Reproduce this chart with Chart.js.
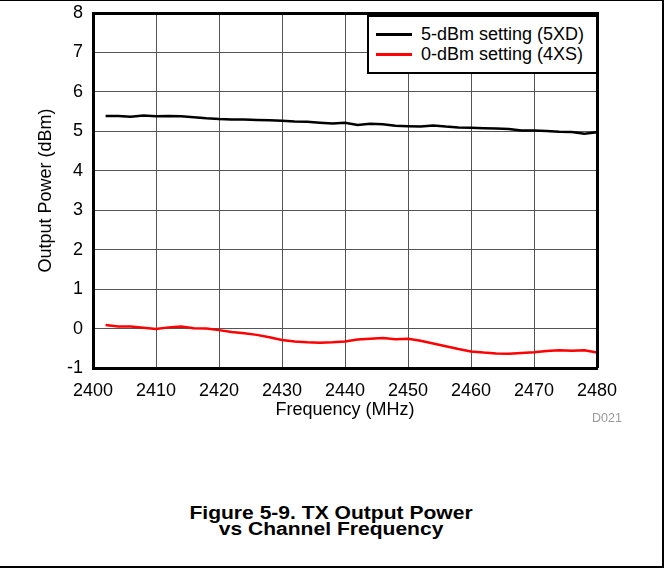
<!DOCTYPE html>
<html>
<head>
<meta charset="utf-8">
<script src="https://cdn.jsdelivr.net/npm/chart.js@4/dist/chart.umd.min.js"></script>
<style>
  html, body { margin: 0; padding: 0; background: #fff; }
  body { width: 669px; height: 571px; position: relative; overflow: hidden; font-family: "Liberation Sans", Arial, sans-serif; }
  #frame { position: absolute; left: 0; top: 0; width: 662px; height: 565px; border-top: 1px solid #000; border-right: 2px solid #000; border-bottom: 2px solid #000; }
  #wrap { position: absolute; left: 0; top: 0; width: 669px; height: 424px; }
  #legend { position: absolute; left: 367px; top: 15px; width: 227px; height: 55px; border: 2px solid #000; background: #fff; font-size: 18px; color: #000; }
  .row { position: absolute; left: 0; height: 20px; line-height: 20px; white-space: nowrap; }
  .sw { position: absolute; left: 7px; top: 9px; width: 36px; height: 3px; }
  .lt { position: absolute; left: 52px; top: 0; }
  #code { position: absolute; left: 592px; top: 411px; font-size: 12.5px; color: #9a9a9a; }
  #caption { position: absolute; left: 0; width: 663px; top: 505px; text-align: center; font-weight: bold; font-size: 18px; line-height: 16px; color: #000; }
  #caption span { display: inline-block; transform: scaleX(1.17); }
</style>
</head>
<body>
<div id="frame"></div>
<div id="wrap"><canvas id="c" width="669" height="424"></canvas></div>
<div id="legend">
  <div class="row" style="top:7px"><div class="sw" style="background:#000"></div><div class="lt">5-dBm setting (5XD)</div></div>
  <div class="row" style="top:27px"><div class="sw" style="background:#ff0000"></div><div class="lt">0-dBm setting (4XS)</div></div>
</div>
<div id="code">D021</div>
<div id="caption"><span>Figure 5-9. TX Output Power</span><br><span>vs Channel Frequency</span></div>
<script>
const frequencies = [2402,2404,2406,2408,2410,2412,2414,2416,2418,2420,2422,2424,2426,2428,2430,2432,2434,2436,2438,2440,2442,2444,2446,2448,2450,2452,2454,2456,2458,2460,2462,2464,2466,2468,2470,2472,2474,2476,2478,2480];
const power5dBm = [5.39,5.39,5.37,5.40,5.38,5.39,5.38,5.36,5.33,5.31,5.30,5.30,5.29,5.28,5.27,5.25,5.24,5.22,5.20,5.22,5.16,5.19,5.18,5.14,5.13,5.12,5.15,5.12,5.10,5.09,5.08,5.07,5.06,5.02,5.02,5.01,4.99,4.98,4.94,4.98];
const power0dBm = [0.09,0.05,0.05,0.02,-0.01,0.03,0.05,0.01,0.00,-0.04,-0.09,-0.12,-0.16,-0.22,-0.29,-0.33,-0.35,-0.36,-0.35,-0.33,-0.28,-0.26,-0.24,-0.27,-0.26,-0.31,-0.38,-0.45,-0.52,-0.58,-0.61,-0.63,-0.64,-0.62,-0.60,-0.57,-0.55,-0.56,-0.55,-0.61];
const seriesNames = ["5-dBm setting (5XD)", "0-dBm setting (4XS)"];
const xTitle = "Frequency (MHz)";
const yTitle = "Output Power (dBm)";

const FONT = "'Liberation Sans', Arial, sans-serif";

const frameTopRight = {
  id: 'frameTopRight',
  afterDatasetsDraw(chart) {
    const {ctx, chartArea: a} = chart;
    ctx.save();
    ctx.strokeStyle = '#000';
    ctx.lineWidth = 3;
    ctx.beginPath();
    ctx.moveTo(a.left, a.top + 0.5);
    ctx.lineTo(a.right + 0.5, a.top + 0.5);
    ctx.lineTo(a.right + 0.5, a.bottom);
    ctx.stroke();
    ctx.restore();
  }
};

new Chart(document.getElementById('c'), {
  type: 'line',
  data: {
    datasets: [
      { label: seriesNames[0], data: frequencies.map((f, i) => ({x: f, y: power5dBm[i]})), borderColor: '#000', borderWidth: 2.5, pointRadius: 0, tension: 0, fill: false },
      { label: seriesNames[1], data: frequencies.map((f, i) => ({x: f, y: power0dBm[i]})), borderColor: '#ff0000', borderWidth: 2.5, pointRadius: 0, tension: 0, fill: false }
    ]
  },
  options: {
    responsive: false,
    animation: false,
    events: [],
    layout: { padding: { left: 0, top: 13, right: 72, bottom: 0 } },
    plugins: { legend: { display: false }, tooltip: { enabled: false } },
    scales: {
      x: {
        type: 'linear', min: 2400, max: 2480,
        ticks: { stepSize: 10, padding: 12, color: '#000', font: { family: FONT, size: 18 }, maxRotation: 0, callback: v => String(v) },
        grid: { color: '#555', lineWidth: 1, drawTicks: false },
        border: { color: '#000', width: 3 },
        title: { display: true, text: xTitle, color: '#000', font: { family: FONT, size: 18 }, padding: { top: 0, bottom: 3 } },
        afterFit(s) { s.height = 56; s.paddingLeft = 0; s.paddingRight = 0; }
      },
      y: {
        type: 'linear', min: -1, max: 8,
        ticks: { stepSize: 1, padding: 10, color: '#000', font: { family: FONT, size: 18 }, callback: v => String(v) },
        grid: { color: '#555', lineWidth: 1, drawTicks: false },
        border: { color: '#000', width: 3 },
        title: { display: true, text: yTitle, color: '#000', font: { family: FONT, size: 18 }, padding: { top: 35, bottom: 0 } },
        afterFit(s) { s.width = 93; s.paddingTop = 0; s.paddingBottom = 0; }
      }
    }
  },
  plugins: [frameTopRight]
});
</script>
</body>
</html>
